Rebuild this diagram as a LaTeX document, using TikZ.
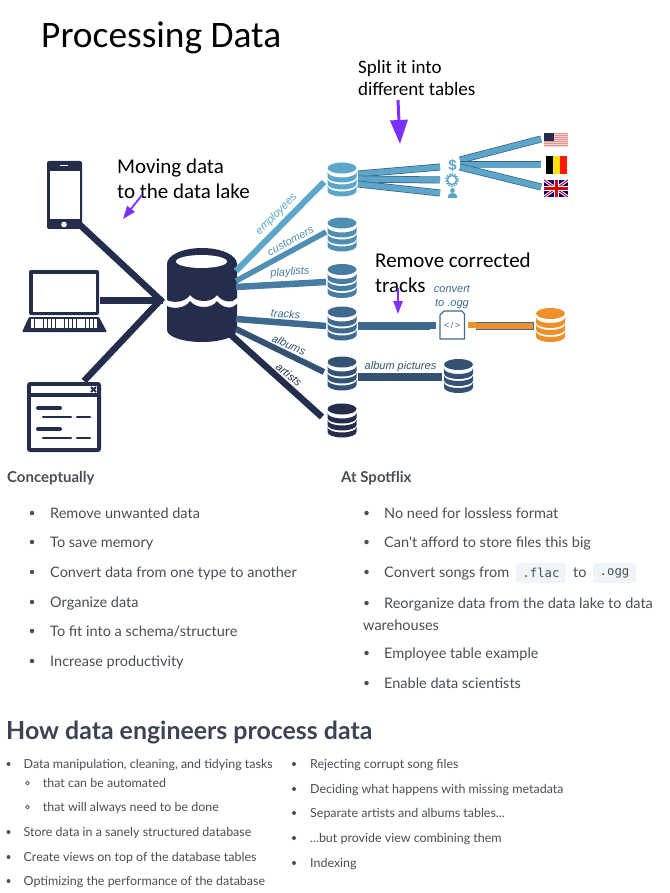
\documentclass[tikz,border=0pt]{standalone}
\usepackage{fontspec}
\setmainfont{Lato}
\newfontfamily\latoplain{Lato}
\newfontfamily\calfam{Carlito}
\newfontfamily\helfam{Liberation Sans}
\newfontfamily\monfam{DejaVu Sans Mono}
\usetikzlibrary{arrows.meta}
\definecolor{navy}{HTML}{252D4C}
\definecolor{c1}{HTML}{5BA6C9}
\definecolor{c2}{HTML}{4F8FB3}
\definecolor{c3}{HTML}{487DA3}
\definecolor{c4}{HTML}{3F6A90}
\definecolor{c5}{HTML}{345374}
\definecolor{orng}{HTML}{F0902A}
\definecolor{purp}{HTML}{7B30FF}
\definecolor{txt}{HTML}{4A4F54}
\definecolor{headc}{HTML}{3C4454}
\definecolor{codebg}{HTML}{EEF4F7}
\definecolor{edgec}{HTML}{3D5F85}
\definecolor{stripe}{HTML}{E2948E}
\tikzset{
  x=1pt,y=-1pt,
  pipe/.style={line width=#1,line cap=butt},
  note/.style={font=\calfam\fontsize{21}{25}\selectfont,anchor=north west,inner sep=0pt,align=left,text=black},
  lab/.style={font=\helfam\itshape\fontsize{11}{12}\selectfont,inner sep=0pt},
  para/.style={font=\fontsize{14.5}{18}\selectfont,anchor=base west,inner sep=0pt,text=txt},
  small/.style={font=\fontsize{12.45}{14}\selectfont,anchor=base west,inner sep=0pt,text=txt},
  head/.style={font=\bfseries\fontsize{15}{18}\selectfont,anchor=base west,inner sep=0pt,text=txt},
  code/.style={font=\monfam\fontsize{12.3}{14}\selectfont,fill=codebg,rounded corners=3pt,inner sep=0pt,minimum height=20pt,text=txt},
  bul/.style={circle,fill=txt,inner sep=0pt,minimum size=#1},
  tip/.style={-{Triangle[length=#1,width'=0pt .72]},purp},
}
% stacked small database: \dbs{name}{x}{y}{colour}
\newcommand{\dbs}[4]{%
  \coordinate (#1) at (#2,#3);
  \begin{scope}[shift={(#2,#3)}]
    \fill[#4] (-14.5,-12) arc[start angle=180,end angle=0,x radius=14.5pt,y radius=5.5pt] -- (14.5,-12) arc[start angle=0,end angle=-180,x radius=14.5pt,y radius=5.5pt] -- cycle;
    \fill[#4] (-14.5,-8) arc[start angle=180,end angle=360,x radius=14.5pt,y radius=5.5pt] -- (14.5,-3) arc[start angle=0,end angle=-180,x radius=14.5pt,y radius=5.5pt] -- cycle;
    \fill[#4] (-14.5,-1) arc[start angle=180,end angle=360,x radius=14.5pt,y radius=5.5pt] -- (14.5,4) arc[start angle=0,end angle=-180,x radius=14.5pt,y radius=5.5pt] -- cycle;
    \fill[#4] (-14.5,6) arc[start angle=180,end angle=360,x radius=14.5pt,y radius=5.5pt] -- (14.5,11) arc[start angle=0,end angle=-180,x radius=14.5pt,y radius=5.5pt] -- cycle;
  \end{scope}}
\begin{document}
\begin{tikzpicture}
\useasboundingbox (0,0) rectangle (669,893);
\fill[white] (0,0) rectangle (669,893);

\node[note,font=\calfam\fontsize{37.4}{40}\selectfont] (title) at (41,22) {Processing Data};

% sources
\fill[navy,rounded corners=2pt] (47,161) rectangle (82,229);
\fill[white] (49.5,171) rectangle (79.5,219);
\fill[white] (64,224.5) circle[radius=2.8pt];
\fill[white] (60,165) rectangle (68,166);
\coordinate (phone) at (79,224);

\fill[navy,rounded corners=2pt] (29,270) rectangle (99,315);
\fill[white] (32.5,273.5) rectangle (95.5,311.5);
\fill[navy,rounded corners=1pt] (29,317) -- (99,317) -- (107,332) -- (22,332) -- cycle;
\foreach \yy in {320.5,323.5,326.5}{\draw[white,line width=2.2pt,dash pattern=on 3.4pt off 0.8pt] (31,\yy) -- (98,\yy);}
\coordinate (laptop) at (100,300.5);

\fill[navy,rounded corners=3pt] (27,382) rectangle (101,452);
\fill[white] (31,386) rectangle (97,393);
\fill[white] (31,397) rectangle (97,448);
\draw[navy,line width=1.8pt] (91,387) -- (96,392) (96,387) -- (91,392);
\foreach \yy in {408,429}{\draw[navy,line width=4pt,line cap=round] (38,\yy) -- (60,\yy);}
\foreach \yy in {417,438}{
  \draw[navy,line width=2.4pt,line cap=round] (43,\yy) -- (71,\yy);
  \draw[navy,line width=2.4pt,line cap=round] (77,\yy) -- (90,\yy);}
\coordinate (browser) at (84,381);

\coordinate (hub) at (160.5,300);
\coordinate (hubm) at (163,300.5);
\draw[navy,pipe=6.5pt,miter limit=10] (phone) -- (hub) -- (browser);
\draw[navy,pipe=7pt] (laptop) -- (hubm);

% central data lake
\fill[navy] (167,264) arc[start angle=180,end angle=0,x radius=35pt,y radius=16pt] -- (237,298)
  .. controls (233,303) and (223,303) .. (217,295) .. controls (212,303) and (196,303) .. (190,295)
  .. controls (185,303) and (172,303) .. (167,300) -- cycle;
\fill[navy] (167,306) .. controls (172,309) and (185,309) .. (190,301) .. controls (196,309) and (212,309) .. (217,301)
  .. controls (223,309) and (233,309) .. (237,304) -- (237,330) arc[start angle=0,end angle=-180,x radius=35pt,y radius=12pt] -- cycle;
\fill[white] (201.5,261.5) ellipse[x radius=25.5pt,y radius=6.5pt];
\coordinate (lakeB) at (231,335);

% databases
\dbs{d1}{342}{180}{c1}
\dbs{d2}{342}{235}{c2}
\dbs{d3}{342}{281.5}{c3}
\dbs{d4}{342}{324}{c4}
\dbs{d5}{342}{374}{c5}
\dbs{d6}{342}{421}{navy}
\dbs{d7}{458.5}{376.5}{c5}
\dbs{d8}{550.5}{325.5}{orng}

% fan out
\coordinate (e1) at (324,182);
\coordinate (e2) at (326,232);
\coordinate (e3) at (326,282);
\coordinate (e4) at (326,326);
\coordinate (e5) at (324,372);
\coordinate (e6) at (322,417);
\draw[c1,pipe=6pt] (236,271) -- (e1);
\draw[c2,pipe=5.5pt] (236,281) -- (e2);
\draw[c3,pipe=6.5pt] (236,287) -- (e3);
\draw[c4,pipe=6.5pt] (236,319) -- (e4);
\draw[c5,pipe=6pt] (236,329) -- (e5);
\draw[navy,pipe=6.5pt] (lakeB) -- (e6);

\node[lab,text=c1,rotate=45] (l1) at (276.5,214.5) {employees};
\node[lab,text=c2,rotate=28] (l2) at (290.5,241) {customers};
\node[lab,text=c3,rotate=4] (l3) at (290,272.5) {playlists};
\node[lab,text=c4,rotate=-4] (l4) at (285.5,314) {tracks};
\node[lab,text=c5,rotate=-24] (l5) at (289,345) {albums};
\node[lab,text=navy,rotate=-39] (l6) at (289,375) {artists};

% split
\coordinate (sa) at (358,174);
\coordinate (sb) at (358,179);
\coordinate (sc) at (358,184);
\coordinate (s1) at (440,167);
\coordinate (s2) at (440,180);
\coordinate (s3) at (440,193);
\foreach \p/\q in {sa/s1,sb/s2,sc/s3}{
  \draw[edgec,pipe=7pt] (\p) -- (\q);
  \draw[c1,pipe=5.6pt] (\p) -- (\q);}
% column icons
\node[font=\helfam\bfseries\fontsize{15}{15}\selectfont,text=c1,inner sep=0pt] (dollar) at (452.5,165) {\$};
\draw[c1,line width=1.3pt,dash pattern=on 1.6pt off 1.2pt] (452,180) circle[radius=6.2pt];
\draw[c1,line width=1.6pt] (452,180) circle[radius=4.6pt];
\fill[c1] (452.5,190.5) circle[radius=2.4pt];
\fill[c1] (448,198) -- (448,196) arc[start angle=180,end angle=0,x radius=4.5pt,y radius=3pt] -- (457,198) -- cycle;
\coordinate (f0) at (460,160);
\coordinate (f0b) at (460,165);
\coordinate (f0c) at (460,167);
\coordinate (f1) at (541,139);
\coordinate (f2) at (541,165);
\coordinate (f3) at (541,187);
\foreach \p/\q in {f0/f1,f0b/f2,f0c/f3}{
  \draw[edgec,pipe=7pt] (\p) -- (\q);
  \draw[c1,pipe=5.6pt] (\p) -- (\q);}

% flags
\fill[stripe!45!white] (544,133) rectangle (568,147);
\foreach \k in {0,1,2,3,4,5,6}{\fill[stripe] (544,133+\k*2) rectangle (568,134+\k*2);}
\fill[navy] (544,133) rectangle (554,141);
\fill[black] (546,156) rectangle (553,174);
\fill[yellow!85!orange] (553,156) rectangle (560,174);
\fill[red!80!orange] (560,156) rectangle (567,174);
\begin{scope}
\clip (544,180) rectangle (568,197);
\fill[blue!50!black] (544,180) rectangle (568,197);
\draw[white,line width=3pt] (544,180) -- (568,197) (568,180) -- (544,197);
\draw[red!85!black,line width=1pt] (544,180) -- (568,197) (568,180) -- (544,197);
\draw[white,line width=5pt] (556,180) -- (556,197) (544,188.5) -- (568,188.5);
\draw[red!85!black,line width=3pt] (556,180) -- (556,197) (544,188.5) -- (568,188.5);
\end{scope}

% conversion
\fill[c4] (358,322) rectangle (430,330);
\fill[c4] (430,321.5) rectangle (436,329);
\draw[c4,line width=1.2pt,fill=white,line join=round] (440,339) -- (440,315) -- (444,311) -- (462,311) -- (464.5,314) -- (464.5,339) -- cycle;
\node[font=\helfam\fontsize{9}{9}\selectfont,text=c4,inner sep=0pt] (tag) at (452,325) {<\,/\,>};
\fill[orng] (468,321.5) rectangle (476,328);
\fill[orng] (476,322) rectangle (533,329.5);
\draw[c4,line width=.6pt] (476,322) -- (533,322) -- (533,329.5) -- (476,329.5);
\node[lab,text=c4,align=center,font=\helfam\itshape\fontsize{11}{14}\selectfont] (conv) at (452,297) {convert\\to .ogg};
\fill[c5] (358,373) rectangle (442,380.5);
\node[lab,text=c5] (albpic) at (400.5,366.5) {album pictures};

% notes and arrows
\node[note] (n1) at (117,159) {Moving data\\to the data lake};
\coordinate (a1s) at (142,195);
\coordinate (a1e) at (123,219);
\draw[tip=13pt,line width=1.8pt] (a1s) -- (a1e);
\node[note,font=\calfam\fontsize{19}{22}\selectfont] (n2) at (358,60) {Split it into\\different tables};
\coordinate (a2s) at (398,100);
\coordinate (a2e) at (400,144);
\draw[tip=24pt,line width=3pt] (a2s) -- (a2e);
\node[note] (n3) at (375,253) {Remove corrected\\tracks};
\coordinate (a3s) at (398,288);
\coordinate (a3e) at (398,314);
\draw[tip=13pt,line width=1.5pt] (a3s) -- (a3e);

% lower text
\node[head] (h1) at (7,482) {Conceptually};
\node[head] (h2) at (341,482) {At Spotflix};
\foreach \yy/\tx [count=\ii] in {
 518/{Remove unwanted data},
 547/{To save memory},
 577/{Convert data from one type to another},
 607/{Organize data},
 636/{To fit into a schema/structure},
 666/{Increase productivity}}{
  \node[bul=4.5pt] (lb\ii) at (32,\yy-5) {};
  \node[para] (lt\ii) at (50,\yy) {\tx};
}
\foreach \yy/\tx [count=\ii] in {
 518/{No need for lossless format},
 547/{Can{\latoplain'}t afford to store files this big},
 608/{Reorganize data from the data lake to data},
 658/{Employee table example},
 688/{Enable data scientists}}{
  \node[bul=4.5pt] (rb\ii) at (366.5,\yy-5) {};
  \node[para] (rt\ii) at (384,\yy) {\tx};
}
\node[para] (wh) at (363,630) {warehouses};
\node[bul=4.5pt] (rb6) at (366.5,572) {};
\node[para] (c1t) at (384,577) {Convert songs from};
\node[code,minimum width=50pt] (cf) at (541,573) {.flac};
\node[para] (cto) at (573,577) {to};
\node[code,minimum width=43pt] (co) at (614.5,573) {.ogg};

\node[anchor=base west,inner sep=0pt,font=\bfseries\fontsize{24.9}{30}\selectfont,text=headc] (h3) at (6,739) {How data engineers process data};

\foreach \yy/\tx [count=\ii] in {
 768/{Data manipulation, cleaning, and tidying tasks},
 836/{Store data in a sanely structured database},
 861/{Create views on top of the database tables},
 885/{Optimizing the performance of the database}}{
  \node[bul=4pt] (mb\ii) at (8.5,\yy-4) {};
  \node[small] (mt\ii) at (23.5,\yy) {\tx};
}
\foreach \yy/\tx [count=\ii] in {787/{that can be automated},811/{that will always need to be done}}{
  \draw[txt,line width=.6pt] (27.5,\yy-4) circle[radius=1.9pt];
  \node[small] (st\ii) at (42.7,\yy) {\tx};
}
\foreach \yy/\tx [count=\ii] in {
 768/{Rejecting corrupt song files},
 793/{Deciding what happens with missing metadata},
 817/{Separate artists and albums tables...},
 842/{...but provide view combining them},
 867/{Indexing}}{
  \node[bul=4pt] (nb\ii) at (294,\yy-4) {};
  \node[small] (nt\ii) at (310,\yy) {\tx};
}
\end{tikzpicture}
\end{document}
